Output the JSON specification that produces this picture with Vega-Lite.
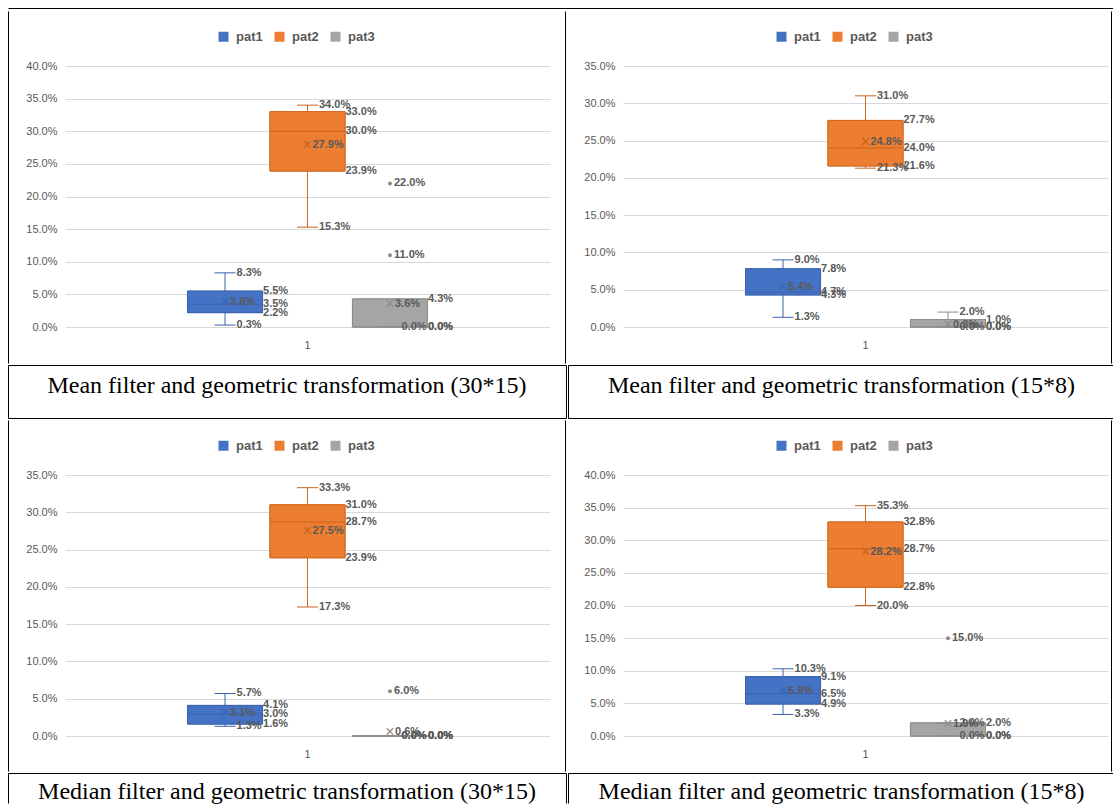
{
"$schema": "https://vega.github.io/schema/vega-lite/v6.json",
"padding": {"left": 7, "top": 7, "right": 0, "bottom": 0},
"background": "white",
"datasets": {
 "boxA": [
  {"grp": "1", "pat": "pat1", "min": 0.003, "q1": 0.022, "med": 0.035, "q3": 0.055, "max": 0.083, "mean": 0.038},
  {"grp": "1", "pat": "pat2", "min": 0.153, "q1": 0.239, "med": 0.300, "q3": 0.330, "max": 0.340, "mean": 0.279},
  {"grp": "1", "pat": "pat3", "min": 0, "q1": 0, "med": 0, "q3": 0.043, "max": null, "mean": 0.036}
 ],
 "outA": [{"grp": "1", "pat": "pat3", "value": 0.22}, {"grp": "1", "pat": "pat3", "value": 0.11}],
 "boxB": [
  {"grp": "1", "pat": "pat1", "min": 0.013, "q1": 0.043, "med": 0.047, "q3": 0.078, "max": 0.090, "mean": 0.054},
  {"grp": "1", "pat": "pat2", "min": 0.213, "q1": 0.216, "med": 0.240, "q3": 0.277, "max": 0.310, "mean": 0.248},
  {"grp": "1", "pat": "pat3", "min": 0, "q1": 0, "med": 0, "q3": 0.010, "max": 0.020, "mean": 0.003}
 ],
 "boxC": [
  {"grp": "1", "pat": "pat1", "min": 0.013, "q1": 0.016, "med": 0.030, "q3": 0.041, "max": 0.057, "mean": 0.031},
  {"grp": "1", "pat": "pat2", "min": 0.173, "q1": 0.239, "med": 0.287, "q3": 0.310, "max": 0.333, "mean": 0.275},
  {"grp": "1", "pat": "pat3", "min": 0, "q1": 0, "med": 0, "q3": 0, "max": 0, "mean": 0.006}
 ],
 "outC": [{"grp": "1", "pat": "pat3", "value": 0.06}],
 "boxD": [
  {"grp": "1", "pat": "pat1", "min": 0.033, "q1": 0.049, "med": 0.065, "q3": 0.091, "max": 0.103, "mean": 0.069},
  {"grp": "1", "pat": "pat2", "min": 0.200, "q1": 0.228, "med": 0.287, "q3": 0.328, "max": 0.353, "mean": 0.282},
  {"grp": "1", "pat": "pat3", "min": 0, "q1": 0, "med": 0, "q3": 0.020, "max": 0.020, "mean": 0.019}
 ],
 "outD": [{"grp": "1", "pat": "pat3", "value": 0.15}]
},
"spacing": 0,
"resolve": {"scale": {"color": "independent", "fill": "independent", "stroke": "independent", "x": "independent", "y": "independent", "xOffset": "independent"}, "legend": {"color": "independent"}},
"vconcat": [
 {"width": 1105, "height": 1, "data": {"values": []}, "mark": "point", "view": {"stroke": "black", "strokeWidth": 1, "strokeDash": [1105, 1107]}},
 {"hconcat": [
  {"width": 16, "height": 352, "data": {"values": []}, "mark": "point", "view": {"stroke": "black", "strokeWidth": 1, "strokeDash": [0, 384, 352]}},
  {"width": 485, "height": 316,
   "encoding": {"x": {"field": "grp", "type": "nominal", "scale": {"paddingInner": 0, "paddingOuter": 0.48}, "axis": {"title": null, "labelAngle": 0, "ticks": false, "tickSize": 0, "domain": false, "grid": false, "labelPadding": 12, "labelFontSize": 11, "labelColor": "#595959", "labelFont": "Liberation Sans"}},
                "xOffset": {"field": "pat", "type": "nominal", "scale": {"paddingInner": 0.09, "paddingOuter": 0.045}}},
   "layer": [
    {"data": {"name": "boxA"}, "mark": {"type": "bar", "strokeWidth": 1},
     "encoding": {"y": {"field": "q1", "type": "quantitative", "scale": {"domain": [0, 0.4], "range": [316, 55], "nice": false}, "axis": {"title": null, "format": ".1%", "tickCount": 8, "grid": true, "gridColor": "#d9d9d9", "domain": false, "ticks": false, "tickSize": 0, "labelPadding": 8, "labelFontSize": 11, "labelColor": "#595959", "labelFont": "Liberation Sans"}}, "y2": {"field": "q3"},
                  "color": {"field": "pat", "type": "nominal", "scale": {"domain": ["pat1", "pat2", "pat3"], "range": ["#4472c4", "#ed7d31", "#a5a5a5"]}, "legend": {"orient": "none", "legendX": 152, "legendY": 19, "title": null, "direction": "horizontal", "symbolType": "square", "symbolSize": 100, "symbolStrokeWidth": 0, "labelFontSize": 13, "labelFontWeight": "bold", "labelColor": "#595959", "labelFont": "Liberation Sans", "labelOffset": 6, "columnPadding": 10, "padding": 0}},
                  "stroke": {"field": "pat", "type": "nominal", "scale": {"domain": ["pat1", "pat2", "pat3"], "range": ["#3b64ad", "#d0691f", "#8c8c8c"]}, "legend": null}}},
    {"data": {"name": "boxA"}, "transform": [{"filter": "isValid(datum.max)"}], "mark": {"type": "rule", "strokeWidth": 1},
     "encoding": {"y": {"field": "min", "type": "quantitative"}, "y2": {"field": "max"}, "stroke": {"field": "pat", "type": "nominal", "legend": null}}},
    {"data": {"name": "boxA"}, "mark": {"type": "bar", "strokeWidth": 1},
     "encoding": {"y": {"field": "q1", "type": "quantitative"}, "y2": {"field": "q3"}, "color": {"field": "pat", "type": "nominal"}, "stroke": {"field": "pat", "type": "nominal"}}},
    {"data": {"name": "boxA"}, "mark": {"type": "tick", "size": 75, "thickness": 1, "opacity": 1},
     "encoding": {"y": {"field": "med", "type": "quantitative"}, "fill": {"field": "pat", "type": "nominal", "scale": {"domain": ["pat1", "pat2", "pat3"], "range": ["#3b64ad", "#c8621c", "#8c8c8c"]}, "legend": null}}},
    {"data": {"name": "boxA"}, "transform": [{"fold": ["min", "max"], "as": ["stat", "value"]}, {"filter": "isValid(datum.value)"}], "mark": {"type": "tick", "size": 21, "thickness": 1, "opacity": 1},
     "encoding": {"y": {"field": "value", "type": "quantitative"}, "fill": {"field": "pat", "type": "nominal", "legend": null}}},
    {"data": {"name": "boxA"}, "mark": {"type": "text", "text": "×", "fontSize": 16, "baseline": "middle", "align": "center"},
     "encoding": {"y": {"field": "mean", "type": "quantitative"}, "fill": {"field": "pat", "type": "nominal", "legend": null}}},
    {"data": {"name": "boxA"}, "transform": [{"fold": ["min", "max"], "as": ["stat", "value"]}, {"filter": "isValid(datum.value)"}], "mark": {"type": "text", "align": "left", "baseline": "middle", "dx": 11.5, "fontWeight": "bold", "fontSize": 11, "font": "Liberation Sans", "color": "#595959"},
     "encoding": {"y": {"field": "value", "type": "quantitative"}, "text": {"field": "value", "type": "quantitative", "format": ".1%"}}},
    {"data": {"name": "boxA"}, "transform": [{"fold": ["q1", "med", "q3"], "as": ["stat", "value"]}], "mark": {"type": "text", "align": "left", "baseline": "middle", "dx": 38, "fontWeight": "bold", "fontSize": 11, "font": "Liberation Sans", "color": "#595959"},
     "encoding": {"y": {"field": "value", "type": "quantitative"}, "text": {"field": "value", "type": "quantitative", "format": ".1%"}}},
    {"data": {"name": "boxA"}, "mark": {"type": "text", "align": "left", "baseline": "middle", "dx": 5, "fontWeight": "bold", "fontSize": 11, "font": "Liberation Sans", "color": "#595959"},
     "encoding": {"y": {"field": "mean", "type": "quantitative"}, "text": {"field": "mean", "type": "quantitative", "format": ".1%"}}},
    {"data": {"name": "outA"}, "mark": {"type": "point", "filled": true, "size": 16, "color": "#8c8c8c", "opacity": 1},
     "encoding": {"y": {"field": "value", "type": "quantitative"}}},
    {"data": {"name": "outA"}, "mark": {"type": "text", "align": "left", "baseline": "middle", "dx": 4, "fontWeight": "bold", "fontSize": 11, "font": "Liberation Sans", "color": "#595959"},
     "encoding": {"y": {"field": "value", "type": "quantitative"}, "text": {"field": "value", "type": "quantitative", "format": ".1%"}}}
   ]},
  {"width": 14, "height": 352, "data": {"values": []}, "mark": "point", "view": {"stroke": "black", "strokeWidth": 1, "strokeDash": [0, 14, 352, 366]}},
  {"width": 17, "height": 352, "data": {"values": []}, "mark": "point", "view": {"stroke": null}},
  {"width": 485, "height": 316,
   "encoding": {"x": {"field": "grp", "type": "nominal", "scale": {"paddingInner": 0, "paddingOuter": 0.48}, "axis": {"title": null, "labelAngle": 0, "ticks": false, "tickSize": 0, "domain": false, "grid": false, "labelPadding": 12, "labelFontSize": 11, "labelColor": "#595959", "labelFont": "Liberation Sans"}},
                "xOffset": {"field": "pat", "type": "nominal", "scale": {"paddingInner": 0.09, "paddingOuter": 0.045}}},
   "layer": [
    {"data": {"name": "boxB"}, "mark": {"type": "bar", "strokeWidth": 1},
     "encoding": {"y": {"field": "q1", "type": "quantitative", "scale": {"domain": [0, 0.35], "range": [316, 55], "nice": false}, "axis": {"title": null, "format": ".1%", "tickCount": 7, "grid": true, "gridColor": "#d9d9d9", "domain": false, "ticks": false, "tickSize": 0, "labelPadding": 8, "labelFontSize": 11, "labelColor": "#595959", "labelFont": "Liberation Sans"}}, "y2": {"field": "q3"},
                  "color": {"field": "pat", "type": "nominal", "scale": {"domain": ["pat1", "pat2", "pat3"], "range": ["#4472c4", "#ed7d31", "#a5a5a5"]}, "legend": {"orient": "none", "legendX": 152, "legendY": 19, "title": null, "direction": "horizontal", "symbolType": "square", "symbolSize": 100, "symbolStrokeWidth": 0, "labelFontSize": 13, "labelFontWeight": "bold", "labelColor": "#595959", "labelFont": "Liberation Sans", "labelOffset": 6, "columnPadding": 10, "padding": 0}},
                  "stroke": {"field": "pat", "type": "nominal", "scale": {"domain": ["pat1", "pat2", "pat3"], "range": ["#3b64ad", "#d0691f", "#8c8c8c"]}, "legend": null}}},
    {"data": {"name": "boxB"}, "transform": [{"filter": "isValid(datum.max)"}], "mark": {"type": "rule", "strokeWidth": 1},
     "encoding": {"y": {"field": "min", "type": "quantitative"}, "y2": {"field": "max"}, "stroke": {"field": "pat", "type": "nominal", "legend": null}}},
    {"data": {"name": "boxB"}, "mark": {"type": "bar", "strokeWidth": 1},
     "encoding": {"y": {"field": "q1", "type": "quantitative"}, "y2": {"field": "q3"}, "color": {"field": "pat", "type": "nominal"}, "stroke": {"field": "pat", "type": "nominal"}}},
    {"data": {"name": "boxB"}, "mark": {"type": "tick", "size": 75, "thickness": 1, "opacity": 1},
     "encoding": {"y": {"field": "med", "type": "quantitative"}, "fill": {"field": "pat", "type": "nominal", "scale": {"domain": ["pat1", "pat2", "pat3"], "range": ["#3b64ad", "#c8621c", "#8c8c8c"]}, "legend": null}}},
    {"data": {"name": "boxB"}, "transform": [{"fold": ["min", "max"], "as": ["stat", "value"]}, {"filter": "isValid(datum.value)"}], "mark": {"type": "tick", "size": 21, "thickness": 1, "opacity": 1},
     "encoding": {"y": {"field": "value", "type": "quantitative"}, "fill": {"field": "pat", "type": "nominal", "legend": null}}},
    {"data": {"name": "boxB"}, "mark": {"type": "text", "text": "×", "fontSize": 16, "baseline": "middle", "align": "center"},
     "encoding": {"y": {"field": "mean", "type": "quantitative"}, "fill": {"field": "pat", "type": "nominal", "legend": null}}},
    {"data": {"name": "boxB"}, "transform": [{"fold": ["min", "max"], "as": ["stat", "value"]}, {"filter": "isValid(datum.value)"}], "mark": {"type": "text", "align": "left", "baseline": "middle", "dx": 11.5, "fontWeight": "bold", "fontSize": 11, "font": "Liberation Sans", "color": "#595959"},
     "encoding": {"y": {"field": "value", "type": "quantitative"}, "text": {"field": "value", "type": "quantitative", "format": ".1%"}}},
    {"data": {"name": "boxB"}, "transform": [{"fold": ["q1", "med", "q3"], "as": ["stat", "value"]}], "mark": {"type": "text", "align": "left", "baseline": "middle", "dx": 38, "fontWeight": "bold", "fontSize": 11, "font": "Liberation Sans", "color": "#595959"},
     "encoding": {"y": {"field": "value", "type": "quantitative"}, "text": {"field": "value", "type": "quantitative", "format": ".1%"}}},
    {"data": {"name": "boxB"}, "mark": {"type": "text", "align": "left", "baseline": "middle", "dx": 5, "fontWeight": "bold", "fontSize": 11, "font": "Liberation Sans", "color": "#595959"},
     "encoding": {"y": {"field": "mean", "type": "quantitative"}, "text": {"field": "mean", "type": "quantitative", "format": ".1%"}}}
   ]},
  {"width": 2, "height": 352, "data": {"values": []}, "mark": "point", "view": {"stroke": "black", "strokeWidth": 1, "strokeDash": [0, 2, 352, 354]}}
 ], "spacing": 0, "resolve": {"scale": {"color": "independent", "fill": "independent", "stroke": "independent", "x": "independent", "y": "independent", "xOffset": "independent"}, "legend": {"color": "independent"}}},
 {"hconcat": [
  {"width": 558, "height": 53, "data": {"values": [{"caption": "Mean filter and geometric transformation (30*15)"}]}, "mark": {"type": "text", "font": "Liberation Serif", "fontSize": 24, "color": "black", "baseline": "middle", "dy": -6}, "encoding": {"text": {"field": "caption", "type": "nominal"}}, "view": {"stroke": "black", "strokeWidth": 1}},
  {"width": 547, "height": 53, "data": {"values": [{"caption": "Mean filter and geometric transformation (15*8)"}]}, "mark": {"type": "text", "font": "Liberation Serif", "fontSize": 24, "color": "black", "baseline": "middle", "dy": -6}, "encoding": {"text": {"field": "caption", "type": "nominal"}}, "view": {"stroke": "black", "strokeWidth": 1}}
 ], "spacing": 0},
 {"hconcat": [
  {"width": 16, "height": 351, "data": {"values": []}, "mark": "point", "view": {"stroke": "black", "strokeWidth": 1, "strokeDash": [0, 383, 351]}},
  {"width": 485, "height": 316,
   "encoding": {"x": {"field": "grp", "type": "nominal", "scale": {"paddingInner": 0, "paddingOuter": 0.48}, "axis": {"title": null, "labelAngle": 0, "ticks": false, "tickSize": 0, "domain": false, "grid": false, "labelPadding": 12, "labelFontSize": 11, "labelColor": "#595959", "labelFont": "Liberation Sans"}},
                "xOffset": {"field": "pat", "type": "nominal", "scale": {"paddingInner": 0.09, "paddingOuter": 0.045}}},
   "layer": [
    {"data": {"name": "boxC"}, "mark": {"type": "bar", "strokeWidth": 1},
     "encoding": {"y": {"field": "q1", "type": "quantitative", "scale": {"domain": [0, 0.35], "range": [316, 55], "nice": false}, "axis": {"title": null, "format": ".1%", "tickCount": 7, "grid": true, "gridColor": "#d9d9d9", "domain": false, "ticks": false, "tickSize": 0, "labelPadding": 8, "labelFontSize": 11, "labelColor": "#595959", "labelFont": "Liberation Sans"}}, "y2": {"field": "q3"},
                  "color": {"field": "pat", "type": "nominal", "scale": {"domain": ["pat1", "pat2", "pat3"], "range": ["#4472c4", "#ed7d31", "#a5a5a5"]}, "legend": {"orient": "none", "legendX": 152, "legendY": 19, "title": null, "direction": "horizontal", "symbolType": "square", "symbolSize": 100, "symbolStrokeWidth": 0, "labelFontSize": 13, "labelFontWeight": "bold", "labelColor": "#595959", "labelFont": "Liberation Sans", "labelOffset": 6, "columnPadding": 10, "padding": 0}},
                  "stroke": {"field": "pat", "type": "nominal", "scale": {"domain": ["pat1", "pat2", "pat3"], "range": ["#3b64ad", "#d0691f", "#8c8c8c"]}, "legend": null}}},
    {"data": {"name": "boxC"}, "transform": [{"filter": "isValid(datum.max)"}], "mark": {"type": "rule", "strokeWidth": 1},
     "encoding": {"y": {"field": "min", "type": "quantitative"}, "y2": {"field": "max"}, "stroke": {"field": "pat", "type": "nominal", "legend": null}}},
    {"data": {"name": "boxC"}, "mark": {"type": "bar", "strokeWidth": 1},
     "encoding": {"y": {"field": "q1", "type": "quantitative"}, "y2": {"field": "q3"}, "color": {"field": "pat", "type": "nominal"}, "stroke": {"field": "pat", "type": "nominal"}}},
    {"data": {"name": "boxC"}, "mark": {"type": "tick", "size": 75, "thickness": 1, "opacity": 1},
     "encoding": {"y": {"field": "med", "type": "quantitative"}, "fill": {"field": "pat", "type": "nominal", "scale": {"domain": ["pat1", "pat2", "pat3"], "range": ["#3b64ad", "#c8621c", "#8c8c8c"]}, "legend": null}}},
    {"data": {"name": "boxC"}, "transform": [{"fold": ["min", "max"], "as": ["stat", "value"]}, {"filter": "isValid(datum.value)"}], "mark": {"type": "tick", "size": 21, "thickness": 1, "opacity": 1},
     "encoding": {"y": {"field": "value", "type": "quantitative"}, "fill": {"field": "pat", "type": "nominal", "legend": null}}},
    {"data": {"name": "boxC"}, "mark": {"type": "text", "text": "×", "fontSize": 16, "baseline": "middle", "align": "center"},
     "encoding": {"y": {"field": "mean", "type": "quantitative"}, "fill": {"field": "pat", "type": "nominal", "legend": null}}},
    {"data": {"name": "boxC"}, "transform": [{"fold": ["min", "max"], "as": ["stat", "value"]}, {"filter": "isValid(datum.value)"}], "mark": {"type": "text", "align": "left", "baseline": "middle", "dx": 11.5, "fontWeight": "bold", "fontSize": 11, "font": "Liberation Sans", "color": "#595959"},
     "encoding": {"y": {"field": "value", "type": "quantitative"}, "text": {"field": "value", "type": "quantitative", "format": ".1%"}}},
    {"data": {"name": "boxC"}, "transform": [{"fold": ["q1", "med", "q3"], "as": ["stat", "value"]}], "mark": {"type": "text", "align": "left", "baseline": "middle", "dx": 38, "fontWeight": "bold", "fontSize": 11, "font": "Liberation Sans", "color": "#595959"},
     "encoding": {"y": {"field": "value", "type": "quantitative"}, "text": {"field": "value", "type": "quantitative", "format": ".1%"}}},
    {"data": {"name": "boxC"}, "mark": {"type": "text", "align": "left", "baseline": "middle", "dx": 5, "fontWeight": "bold", "fontSize": 11, "font": "Liberation Sans", "color": "#595959"},
     "encoding": {"y": {"field": "mean", "type": "quantitative"}, "text": {"field": "mean", "type": "quantitative", "format": ".1%"}}},
    {"data": {"name": "outC"}, "mark": {"type": "point", "filled": true, "size": 16, "color": "#8c8c8c", "opacity": 1},
     "encoding": {"y": {"field": "value", "type": "quantitative"}}},
    {"data": {"name": "outC"}, "mark": {"type": "text", "align": "left", "baseline": "middle", "dx": 4, "fontWeight": "bold", "fontSize": 11, "font": "Liberation Sans", "color": "#595959"},
     "encoding": {"y": {"field": "value", "type": "quantitative"}, "text": {"field": "value", "type": "quantitative", "format": ".1%"}}}
   ]},
  {"width": 14, "height": 351, "data": {"values": []}, "mark": "point", "view": {"stroke": "black", "strokeWidth": 1, "strokeDash": [0, 14, 351, 365]}},
  {"width": 17, "height": 351, "data": {"values": []}, "mark": "point", "view": {"stroke": null}},
  {"width": 485, "height": 316,
   "encoding": {"x": {"field": "grp", "type": "nominal", "scale": {"paddingInner": 0, "paddingOuter": 0.48}, "axis": {"title": null, "labelAngle": 0, "ticks": false, "tickSize": 0, "domain": false, "grid": false, "labelPadding": 12, "labelFontSize": 11, "labelColor": "#595959", "labelFont": "Liberation Sans"}},
                "xOffset": {"field": "pat", "type": "nominal", "scale": {"paddingInner": 0.09, "paddingOuter": 0.045}}},
   "layer": [
    {"data": {"name": "boxD"}, "mark": {"type": "bar", "strokeWidth": 1},
     "encoding": {"y": {"field": "q1", "type": "quantitative", "scale": {"domain": [0, 0.4], "range": [316, 55], "nice": false}, "axis": {"title": null, "format": ".1%", "tickCount": 8, "grid": true, "gridColor": "#d9d9d9", "domain": false, "ticks": false, "tickSize": 0, "labelPadding": 8, "labelFontSize": 11, "labelColor": "#595959", "labelFont": "Liberation Sans"}}, "y2": {"field": "q3"},
                  "color": {"field": "pat", "type": "nominal", "scale": {"domain": ["pat1", "pat2", "pat3"], "range": ["#4472c4", "#ed7d31", "#a5a5a5"]}, "legend": {"orient": "none", "legendX": 152, "legendY": 19, "title": null, "direction": "horizontal", "symbolType": "square", "symbolSize": 100, "symbolStrokeWidth": 0, "labelFontSize": 13, "labelFontWeight": "bold", "labelColor": "#595959", "labelFont": "Liberation Sans", "labelOffset": 6, "columnPadding": 10, "padding": 0}},
                  "stroke": {"field": "pat", "type": "nominal", "scale": {"domain": ["pat1", "pat2", "pat3"], "range": ["#3b64ad", "#d0691f", "#8c8c8c"]}, "legend": null}}},
    {"data": {"name": "boxD"}, "transform": [{"filter": "isValid(datum.max)"}], "mark": {"type": "rule", "strokeWidth": 1},
     "encoding": {"y": {"field": "min", "type": "quantitative"}, "y2": {"field": "max"}, "stroke": {"field": "pat", "type": "nominal", "legend": null}}},
    {"data": {"name": "boxD"}, "mark": {"type": "bar", "strokeWidth": 1},
     "encoding": {"y": {"field": "q1", "type": "quantitative"}, "y2": {"field": "q3"}, "color": {"field": "pat", "type": "nominal"}, "stroke": {"field": "pat", "type": "nominal"}}},
    {"data": {"name": "boxD"}, "mark": {"type": "tick", "size": 75, "thickness": 1, "opacity": 1},
     "encoding": {"y": {"field": "med", "type": "quantitative"}, "fill": {"field": "pat", "type": "nominal", "scale": {"domain": ["pat1", "pat2", "pat3"], "range": ["#3b64ad", "#c8621c", "#8c8c8c"]}, "legend": null}}},
    {"data": {"name": "boxD"}, "transform": [{"fold": ["min", "max"], "as": ["stat", "value"]}, {"filter": "isValid(datum.value)"}], "mark": {"type": "tick", "size": 21, "thickness": 1, "opacity": 1},
     "encoding": {"y": {"field": "value", "type": "quantitative"}, "fill": {"field": "pat", "type": "nominal", "legend": null}}},
    {"data": {"name": "boxD"}, "mark": {"type": "text", "text": "×", "fontSize": 16, "baseline": "middle", "align": "center"},
     "encoding": {"y": {"field": "mean", "type": "quantitative"}, "fill": {"field": "pat", "type": "nominal", "legend": null}}},
    {"data": {"name": "boxD"}, "transform": [{"fold": ["min", "max"], "as": ["stat", "value"]}, {"filter": "isValid(datum.value)"}], "mark": {"type": "text", "align": "left", "baseline": "middle", "dx": 11.5, "fontWeight": "bold", "fontSize": 11, "font": "Liberation Sans", "color": "#595959"},
     "encoding": {"y": {"field": "value", "type": "quantitative"}, "text": {"field": "value", "type": "quantitative", "format": ".1%"}}},
    {"data": {"name": "boxD"}, "transform": [{"fold": ["q1", "med", "q3"], "as": ["stat", "value"]}], "mark": {"type": "text", "align": "left", "baseline": "middle", "dx": 38, "fontWeight": "bold", "fontSize": 11, "font": "Liberation Sans", "color": "#595959"},
     "encoding": {"y": {"field": "value", "type": "quantitative"}, "text": {"field": "value", "type": "quantitative", "format": ".1%"}}},
    {"data": {"name": "boxD"}, "mark": {"type": "text", "align": "left", "baseline": "middle", "dx": 5, "fontWeight": "bold", "fontSize": 11, "font": "Liberation Sans", "color": "#595959"},
     "encoding": {"y": {"field": "mean", "type": "quantitative"}, "text": {"field": "mean", "type": "quantitative", "format": ".1%"}}},
    {"data": {"name": "outD"}, "mark": {"type": "point", "filled": true, "size": 16, "color": "#8c8c8c", "opacity": 1},
     "encoding": {"y": {"field": "value", "type": "quantitative"}}},
    {"data": {"name": "outD"}, "mark": {"type": "text", "align": "left", "baseline": "middle", "dx": 4, "fontWeight": "bold", "fontSize": 11, "font": "Liberation Sans", "color": "#595959"},
     "encoding": {"y": {"field": "value", "type": "quantitative"}, "text": {"field": "value", "type": "quantitative", "format": ".1%"}}}
   ]},
  {"width": 2, "height": 351, "data": {"values": []}, "mark": "point", "view": {"stroke": "black", "strokeWidth": 1, "strokeDash": [0, 2, 351, 353]}}
 ], "spacing": 0, "resolve": {"scale": {"color": "independent", "fill": "independent", "stroke": "independent", "x": "independent", "y": "independent", "xOffset": "independent"}, "legend": {"color": "independent"}}},
 {"hconcat": [
  {"width": 558, "height": 30, "data": {"values": [{"caption": "Median filter and geometric transformation (30*15)"}]}, "mark": {"type": "text", "font": "Liberation Serif", "fontSize": 24, "color": "black", "baseline": "middle", "dy": 4}, "encoding": {"text": {"field": "caption", "type": "nominal"}}, "view": {"stroke": "black", "strokeWidth": 1, "strokeDash": [588, 558, 30]}},
  {"width": 547, "height": 30, "data": {"values": [{"caption": "Median filter and geometric transformation (15*8)"}]}, "mark": {"type": "text", "font": "Liberation Serif", "fontSize": 24, "color": "black", "baseline": "middle", "dy": 4}, "encoding": {"text": {"field": "caption", "type": "nominal"}}, "view": {"stroke": "black", "strokeWidth": 1, "strokeDash": [577, 547, 30]}}
 ], "spacing": 0}
],
"config": {"view": {"stroke": null}, "font": "Liberation Sans"}
}
